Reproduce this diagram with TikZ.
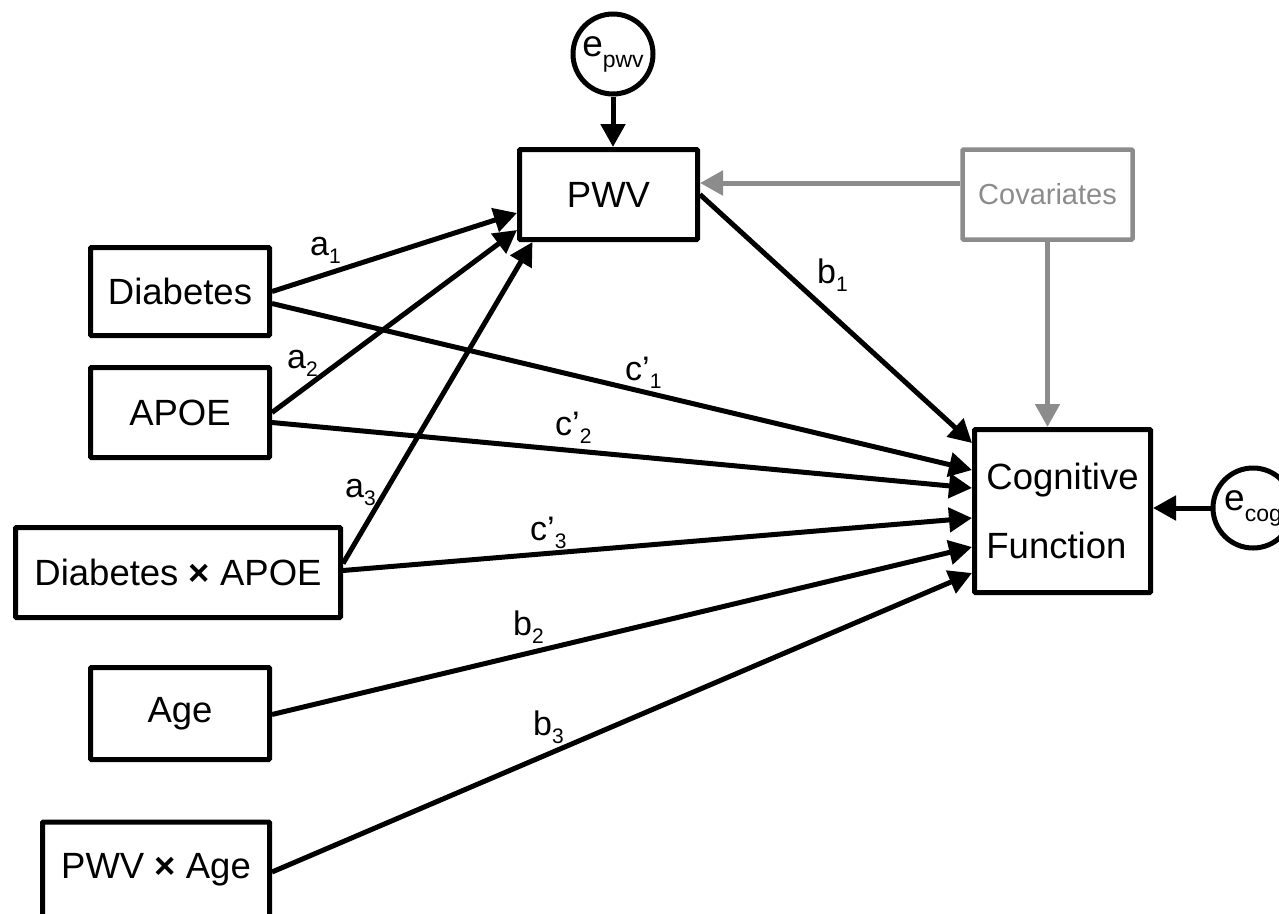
\documentclass[tikz,border=0pt]{standalone}
\usepackage{fontspec}
\setmainfont{Liberation Sans}
\usetikzlibrary{arrows.meta,calc}
\definecolor{covgray}{RGB}{140,140,140}
\newcommand\lsub[1]{\raisebox{-8pt}{\fontsize{21}{24}\selectfont #1}}
\newcommand\esub[1]{\raisebox{-11pt}{\fontsize{23}{26}\selectfont #1}}
\newcommand\tms{{\bfseries ×}}
\begin{document}
\begin{tikzpicture}[x=1pt,y=-1pt,
  box/.style={draw, line width=5pt, inner sep=0pt, rounded corners=1pt, font=\fontsize{36.5}{44}\selectfont},
  gbox/.style={draw=covgray, text=covgray, line width=4.5pt, inner sep=0pt, rounded corners=1pt, font=\fontsize{29}{34}\selectfont},
  errc/.style={draw, circle, line width=5pt, inner sep=0pt, minimum size=80pt, font=\fontsize{37}{44}\selectfont},
  arr/.style={line width=5pt, -{Triangle[length=23pt,width=24pt]}},
  garr/.style={line width=5pt, draw=covgray, -{Triangle[length=23pt,width=24pt]}, fill=covgray},
  lab/.style={inner sep=0pt, anchor=base west, font=\fontsize{34}{40}\selectfont}]
\useasboundingbox (0,0) rectangle (1279,913);
% boxes
\node[box, minimum width=178pt, minimum height=90pt] (pwv) at (608.5,194.5) {PWV};
\node[gbox, minimum width=170pt, minimum height=90pt] (cov) at (1047.5,194.5) {Covariates};
\node[box, minimum width=179pt, minimum height=88pt] (dia) at (180,291.5) {Diabetes};
\node[box, minimum width=179pt, minimum height=90pt] (apoe) at (180,412.5) {APOE};
\node[box, minimum width=325pt, minimum height=90pt] (dxa) at (178,572.5) {Diabetes \tms{} APOE};
\node[box, minimum width=179pt, minimum height=92pt] (age) at (180,713.5) {Age};
\node[box, minimum width=227pt, minimum height=96pt] (pxa) at (156,870) {PWV \tms{} Age};
\node[box, minimum width=176pt, minimum height=163pt, align=left, font=\fontsize{36.5}{69}\selectfont] (cog) at (1062.5,511) {Cognitive\\Function};
% error terms
\node[errc] (epwv) at (613,54) {e\esub{pwv}};
\node[errc] (ecog) at (1253,508) {e\esub{cog}\hspace{16pt}};
% arrows
\draw[arr] (epwv) -- (epwv |- pwv.north);
\draw[arr] (ecog) -- (ecog -| cog.east);
\draw[garr] ([yshift=11.5pt]cov.west) -- ([yshift=11.5pt]pwv.east);
\draw[garr] (cov.south) -- (cov.south |- cog.north);
\draw[arr] (dia.east) -- ([yshift=-18.5pt]pwv.west);
\draw[arr] (apoe.east) -- ([yshift=-35.5pt]pwv.west);
\draw[arr] ([yshift=9pt]dxa.east) -- ([xshift=-76pt]pwv.south);
\draw[arr] (pwv.east) -- ([yshift=68pt]cog.west);
\draw[arr] ([yshift=-12pt]dia.east) -- ([yshift=41pt]cog.west);
\draw[arr] ([yshift=-10pt]apoe.east) -- ([yshift=23pt]cog.west);
\draw[arr] ([yshift=2pt]dxa.east) -- ([yshift=-7pt]cog.west);
\draw[arr] ([yshift=-1pt]age.east) -- ([yshift=-36pt]cog.west);
\draw[arr] ([yshift=-2pt]pxa.east) -- ([yshift=-62pt]cog.west);
% labels
\node[lab] (la1) at (310,255) {a\lsub{1}};
\node[lab] (la2) at (287,368) {a\lsub{2}};
\node[lab] (la3) at (345,497) {a\lsub{3}};
\node[lab] (lc1) at (625,380) {c’\lsub{1}};
\node[lab] (lc2) at (555,435) {c’\lsub{2}};
\node[lab] (lc3) at (530,540) {c’\lsub{3}};
\node[lab] (lb1) at (817,283) {b\lsub{1}};
\node[lab] (lb2) at (513,635) {b\lsub{2}};
\node[lab] (lb3) at (533,735) {b\lsub{3}};
\end{tikzpicture}
\end{document}
